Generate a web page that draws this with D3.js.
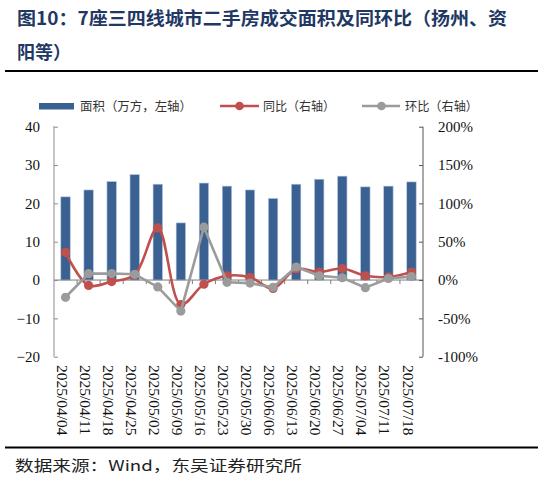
<!DOCTYPE html>
<html><head><meta charset="utf-8">
<script src="https://cdn.jsdelivr.net/npm/d3@7"></script>
<style>html,body{margin:0;padding:0;background:#fff;}svg{display:block;}</style>
</head><body>
<script>
const dates = ["2025/04/04","2025/04/11","2025/04/18","2025/04/25","2025/05/02","2025/05/09","2025/05/16","2025/05/23","2025/05/30","2025/06/06","2025/06/13","2025/06/20","2025/06/27","2025/07/04","2025/07/11","2025/07/18"];
const area = [21.7,23.5,25.7,27.5,25.0,14.9,25.3,24.5,23.5,21.3,25.0,26.3,27.1,24.3,24.5,25.6];
const yoy = [36,-7,-2,7,68,-32,-5.5,5.5,3.5,-11,14.5,10.5,15,5.5,4,10.5];
const mom = [-22.5,8.3,8.5,7.5,-9,-40.5,69,-3,-4,-9.5,17,5.5,3,-10,2,4.5];
const leftTicks = [-20,-10,0,10,20,30,40];
const rightTicks = [-100,-50,0,50,100,150,200];
const titleLines = ["图10：7座三四线城市二手房成交面积及同环比（扬州、资","阳等）"];
const legendLabels = ["面积（万方，左轴）","同比（右轴）","环比（右轴）"];
const sourceText = "数据来源：Wind，东吴证券研究所";

const W = 543, H = 481;
const svg = d3.select("body").append("svg").attr("width", W).attr("height", H);
const serif = "'Liberation Serif','DejaVu Serif',serif";
const cjk = "'Noto Sans CJK SC','Noto Sans CJK JP',sans-serif";

// title
svg.append("text").attr("x",17).attr("y",25).attr("font-family",cjk).attr("font-weight","bold")
  .attr("font-size",18).attr("fill","#1f3864").attr("textLength",490).attr("lengthAdjust","spacingAndGlyphs").text(titleLines[0]);
svg.append("text").attr("x",17).attr("y",59).attr("font-family",cjk).attr("font-weight","bold")
  .attr("font-size",18).attr("fill","#1f3864").text(titleLines[1]);
svg.append("line").attr("x1",5).attr("x2",538).attr("y1",71).attr("y2",71).attr("stroke","#000").attr("stroke-width",2);
svg.append("line").attr("x1",5).attr("x2",538).attr("y1",447.5).attr("y2",447.5).attr("stroke","#000").attr("stroke-width",2);
svg.append("text").attr("x",15).attr("y",471).attr("font-family",cjk).attr("font-size",14.5).attr("fill","#222")
  .attr("textLength",287).attr("lengthAdjust","spacingAndGlyphs").text(sourceText);

// scales
const x = d3.scaleBand().domain(dates).range([54,423]).paddingInner(0.6).paddingOuter(0.3);
const xb = d3.scaleBand().domain(dates).range([54,423]);
const yL = d3.scaleLinear().domain([-20,40]).range([356.7,126.7]);
const yR = d3.scaleLinear().domain([-100,200]).range([356.7,126.7]);

// bars
svg.append("g").selectAll("rect").data(dates).join("rect")
  .attr("x", d => xb(d) + xb.bandwidth()/2 - 4.7)
  .attr("width", 9.4)
  .attr("y", (d,i) => Math.min(yL(area[i]), yL(0)))
  .attr("height", (d,i) => Math.abs(yL(area[i]) - yL(0)))
  .attr("fill","#3a6192").attr("stroke","#b4c6df").attr("stroke-width",0.6);

// zero line with ticks
const zg = svg.append("g").attr("transform",`translate(0,${yL(0)})`);
zg.append("line").attr("x1",54).attr("x2",423).attr("stroke","#7f7f7f").attr("stroke-width",1);
zg.selectAll("line.t").data(d3.range(1,dates.length)).join("line").attr("class","t")
  .attr("x1", i => 54 + i*xb.step()).attr("x2", i => 54 + i*xb.step()).attr("y1",0).attr("y2",4)
  .attr("stroke","#7f7f7f");

// left axis
const ax = d3.axisLeft(yL).tickValues(leftTicks).tickSize(-4).tickPadding(14);
const gL = svg.append("g").attr("transform","translate(54,0)").call(ax);
gL.select(".domain").attr("stroke","#8c8c8c").attr("d", `M-0.5,${yL(40)}H0V${yL(-20)}`);
gL.selectAll(".tick line").attr("stroke","#8c8c8c");
gL.selectAll(".tick text").attr("font-family",serif).attr("font-size",15).attr("fill","#111");
// right axis
const axr = d3.axisRight(yR).tickValues(rightTicks).tickSize(-4).tickPadding(15).tickFormat(d => d + "%");
const gR = svg.append("g").attr("transform","translate(423,0)").call(axr);
gR.select(".domain").attr("stroke","#555").attr("d", `M0,${yR(200)}V${yR(-100)}`);
gR.selectAll(".tick line").attr("stroke","#555");
gR.selectAll(".tick text").attr("font-family",serif).attr("font-size",15).attr("fill","#111");

// x labels
svg.append("g").selectAll("text").data(dates).join("text")
  .attr("transform", d => `translate(${xb(d)+xb.bandwidth()/2 - 3.5},365) rotate(90)`)
  .attr("dy","0.35em").attr("font-family",serif).attr("font-size",15.5).attr("fill","#111").text(d => d);

// lines
const cx = i => xb(dates[i]) + xb.bandwidth()/2;
const lineY = d3.line().x((d,i)=>cx(i)).y(d=>yR(d)).curve(d3.curveCatmullRom.alpha(0.5));
const lineM = d3.line().x((d,i)=>cx(i)).y(d=>yR(d));
svg.append("path").datum(yoy).attr("d",lineY).attr("fill","none").attr("stroke","#c0504d").attr("stroke-width",2.6);
svg.append("g").selectAll("circle").data(yoy).join("circle").attr("cx",(d,i)=>cx(i)).attr("cy",d=>yR(d)).attr("r",4.6).attr("fill","#c0504d");
svg.append("path").datum(mom).attr("d",lineM).attr("fill","none").attr("stroke","#9b9b9b").attr("stroke-width",2.6);
svg.append("g").selectAll("circle").data(mom).join("circle").attr("cx",(d,i)=>cx(i)).attr("cy",d=>yR(d)).attr("r",4.6).attr("fill","#9b9b9b");

// legend
const lg = svg.append("g");
lg.append("rect").attr("x",39).attr("y",103).attr("width",35).attr("height",6.5).attr("fill","#3a6192");
lg.append("text").attr("x",80).attr("y",111).attr("font-family",cjk).attr("font-size",12.5).attr("fill","#333")
  .attr("textLength",112).attr("lengthAdjust","spacingAndGlyphs").text(legendLabels[0]);
lg.append("line").attr("x1",220).attr("x2",259).attr("y1",106).attr("y2",106).attr("stroke","#c0504d").attr("stroke-width",2.6);
lg.append("circle").attr("cx",239.5).attr("cy",106).attr("r",4.3).attr("fill","#c0504d");
lg.append("text").attr("x",263).attr("y",111).attr("font-family",cjk).attr("font-size",12.5).attr("fill","#333")
  .attr("textLength",72).attr("lengthAdjust","spacingAndGlyphs").text(legendLabels[1]);
lg.append("line").attr("x1",362).attr("x2",400).attr("y1",106).attr("y2",106).attr("stroke","#9b9b9b").attr("stroke-width",2.6);
lg.append("circle").attr("cx",381.5).attr("cy",106).attr("r",4.3).attr("fill","#9b9b9b");
lg.append("text").attr("x",405).attr("y",111).attr("font-family",cjk).attr("font-size",12.5).attr("fill","#333")
  .attr("textLength",73).attr("lengthAdjust","spacingAndGlyphs").text(legendLabels[2]);
</script>
</body></html>
